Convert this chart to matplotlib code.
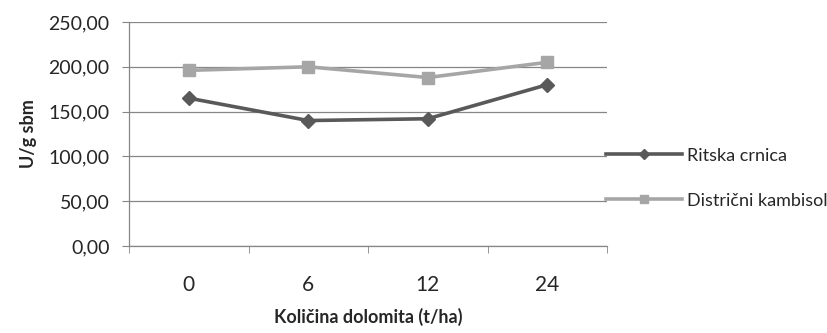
import matplotlib
matplotlib.use("Agg")
import matplotlib.pyplot as plt
from matplotlib.ticker import FixedLocator, FuncFormatter

plt.rcParams['font.family'] = ['Lato', 'DejaVu Sans']

doze = ["0", "6", "12", "24"]
ritska_crnica = [165, 140, 142, 180]
districni_kambisol = [196, 200, 188, 205]

fig = plt.figure(figsize=(8.28, 3.33), dpi=100)
ax = fig.add_axes([0.1558, 0.2613, 0.5773, 0.6727])

x = list(range(len(doze)))
ax.plot(x, ritska_crnica, color='#595959', lw=2.6, marker='D', ms=7,
        label='Ritska crnica', zorder=3)
ax.plot(x, districni_kambisol, color='#a6a6a6', lw=2.6, marker='s', ms=8.5,
        label='Distrični kambisol', zorder=3)

ax.set_xlim(-0.5, len(doze) - 0.5)
ax.set_ylim(0, 250)
ax.set_yticks(range(0, 251, 50))
ax.yaxis.set_major_formatter(FuncFormatter(lambda v, p: f"{v:.2f}".replace('.', ',')))
ax.grid(axis='y', color='#868686', lw=0.9)
ax.set_axisbelow(True)

ax.set_xticks(x)
ax.set_xticklabels(doze, fontsize=15, color='#262626')
ax.xaxis.set_minor_locator(FixedLocator([i - 0.5 for i in range(len(doze) + 1)]))
ax.tick_params(axis='x', which='major', length=0, pad=21)
ax.tick_params(axis='x', which='minor', length=5, color='#868686', direction='out')
ax.tick_params(axis='y', length=5, color='#868686', labelsize=14, labelcolor='#262626', pad=9)

for s in ['top', 'right']:
    ax.spines[s].set_visible(False)
for s in ['left', 'bottom']:
    ax.spines[s].set_color('#868686')
    ax.spines[s].set_linewidth(0.9)

ax.set_xlabel('Količina dolomita (t/ha)', fontsize=13, fontweight='bold', color='#262626', labelpad=9)
ax.set_ylabel('U/g sbm', fontsize=13, fontweight='bold', color='#262626', labelpad=8)

fig.legend(loc='center left', bbox_to_anchor=(0.712, 0.465), frameon=False,
           fontsize=13, handlelength=4.2, handletextpad=0.3, labelspacing=1.6,
           markerscale=0.7, labelcolor='#262626')

fig.savefig('out.png', dpi=100)
